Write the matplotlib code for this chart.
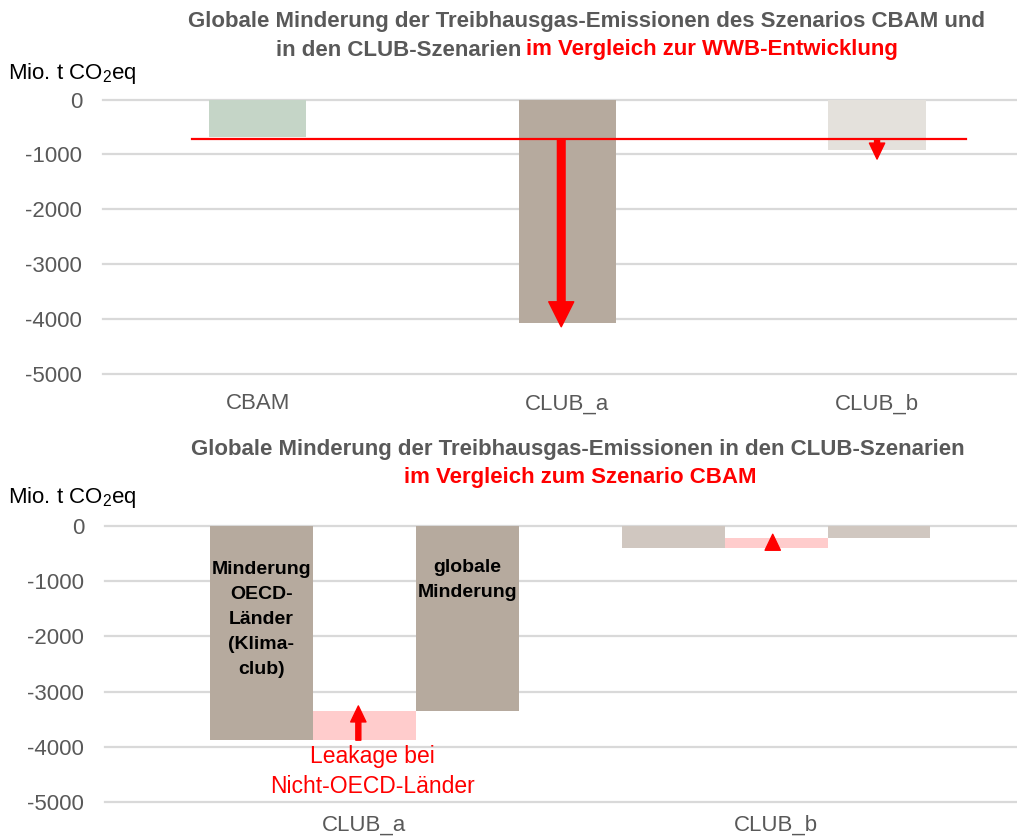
import matplotlib
matplotlib.use('Agg')
import matplotlib.pyplot as plt
from matplotlib.patches import FancyArrowPatch

plt.rcParams['mathtext.default'] = 'regular'

NARROW = ['Liberation Sans Narrow', 'Liberation Sans', 'DejaVu Sans']
ARIAL = ['Liberation Sans', 'DejaVu Sans']
GREY = '#595959'

# --- Daten oberes Diagramm (Mio. t CO2eq, Vergleich zu WWB) ---
kat_oben = ['CBAM', 'CLUB_a', 'CLUB_b']
werte_oben = [-690, -4065, -915]
farben_oben = ['#C5D5C7', '#B6AA9E', '#E4E1DC']
wwb_linie = -720                    # Niveau CBAM
pfeil_spitzen_oben = {1: -4140, 2: -1085}

# --- Daten unteres Diagramm (Vergleich zu CBAM) ---
kat_unten = ['CLUB_a', 'CLUB_b']
minderung_oecd = [-3880, -395]
globale_minderung = [-3345, -210]
farben_unten = ['#B6AA9E', '#D0C7C0']
pfeil_unten = [(-3880, -3260), (-410, -150)]

yticks = [0, -1000, -2000, -3000, -4000, -5000]

W, H = 1017, 840
fig = plt.figure(figsize=(W / 100, H / 100), dpi=100)


def fx(px):
    return px / W


def fy(py):
    return 1 - py / H


def achse_stil(ax, xpad):
    ax.set_ylim(-5000, 0)
    ax.set_yticks(yticks)
    ax.set_yticklabels([str(t) for t in yticks], fontfamily=ARIAL, fontsize=16, color=GREY)
    for s in ax.spines.values():
        s.set_visible(False)
    ax.tick_params(axis='y', length=0, pad=15)
    ax.tick_params(axis='x', length=0, pad=xpad)
    ax.yaxis.grid(True, color='#D9D9D9', linewidth=1.6)
    ax.set_axisbelow(True)
    for gl in ax.get_ygridlines():
        gl.set_clip_on(False)


def pfeil(ax, x, y0, y1, hl, hw, tw):
    p = FancyArrowPatch((x, y0), (x, y1),
                        arrowstyle=f'simple,head_length={hl},head_width={hw},tail_width={tw}',
                        mutation_scale=1, color='red', shrinkA=0, shrinkB=0,
                        clip_on=False, zorder=5)
    ax.add_patch(p)


def zweifarbig(renderer, cx, y, grau, rot, size):
    # Zeile aus grauem und rotem Teil zentriert zusammensetzen
    t1 = fig.text(0, y, grau, fontfamily=NARROW, fontweight='bold', fontsize=size,
                  color=GREY, va='center')
    t2 = fig.text(0, y, rot, fontfamily=NARROW, fontweight='bold', fontsize=size,
                  color='red', va='center')
    w1 = t1.get_window_extent(renderer).width if grau else 0
    w2 = t2.get_window_extent(renderer).width
    gap = 5 if grau else 0
    x0 = cx - (w1 + gap + w2) / 2
    t1.set_x(fx(x0))
    t2.set_x(fx(x0 + w1 + gap))


# ---------------- oberes Diagramm ----------------
ax1 = fig.add_axes([fx(103), fy(374), fx(1017 - 103), (374 - 99.5) / H])
x1 = list(range(len(kat_oben)))
ax1.bar(x1, werte_oben, width=0.314, color=farben_oben, zorder=2)
ax1.set_xlim(-0.5, 2.452)
ax1.set_xticks(x1)
ax1.set_xticklabels(kat_oben, fontfamily=NARROW, fontsize=16, color=GREY)
achse_stil(ax1, 14)
ax1.plot([-0.212, 2.288], [wwb_linie, wwb_linie], color='red', linewidth=1.6, zorder=4)
pfeil(ax1, 1 - 0.02, wwb_linie, pfeil_spitzen_oben[1], 18, 18, 5.5)
pfeil(ax1, 2, wwb_linie, pfeil_spitzen_oben[2], 11.5, 11, 3.6)

# ---------------- unteres Diagramm ----------------
ax2 = fig.add_axes([fx(105), fy(802), fx(1017 - 105), (802 - 526) / H])
x2 = list(range(len(kat_unten)))
bw = 0.25
for i in x2:
    ax2.bar(i - bw, minderung_oecd[i], width=bw, color=farben_unten[i], zorder=2)
    ax2.bar(i, globale_minderung[i] - minderung_oecd[i], bottom=minderung_oecd[i],
            width=bw, color='#FFCCCC', zorder=2)
    ax2.bar(i + bw, globale_minderung[i], width=bw, color=farben_unten[i], zorder=2)
ax2.set_xlim(-0.629, 1.585)
ax2.set_xticks(x2)
ax2.set_xticklabels(kat_unten, fontfamily=NARROW, fontsize=16, color=GREY)
achse_stil(ax2, 9)
pfeil(ax2, -0.014, pfeil_unten[0][0], pfeil_unten[0][1], 11.5, 11, 3.6)
pfeil(ax2, -0.008 + 1, pfeil_unten[1][0], pfeil_unten[1][1], 11.5, 11, 0.5)

ax2.text(-bw, -1700, 'Minderung\nOECD-\nLänder\n(Klima-\nclub)', ha='center', va='center',
         fontfamily=NARROW, fontweight='bold', fontsize=14, linespacing=1.62, zorder=6)
ax2.text(bw, -980, 'globale\nMinderung', ha='center', va='center',
         fontfamily=NARROW, fontweight='bold', fontsize=14, linespacing=1.58, zorder=6)
ax2.text(0.02, -4440, 'Leakage bei\nNicht-OECD-Länder', ha='center', va='center',
         fontfamily=ARIAL, fontsize=16.5, color='red', linespacing=1.38, zorder=6)

# ---------------- Titel und Einheiten ----------------
fig.text(fx(587), fy(22), 'Globale Minderung der Treibhausgas-Emissionen des Szenarios CBAM und',
         ha='center', va='center', fontfamily=NARROW, fontweight='bold', fontsize=16, color=GREY)
fig.text(fx(578), fy(450), 'Globale Minderung der Treibhausgas-Emissionen in den CLUB-Szenarien',
         ha='center', va='center', fontfamily=NARROW, fontweight='bold', fontsize=16, color=GREY)
fig.text(fx(8), fy(73), 'Mio. t CO$_2$eq', ha='left', va='center', fontfamily=NARROW,
         fontsize=16, color='black')
fig.text(fx(8), fy(498), 'Mio. t CO$_2$eq', ha='left', va='center', fontfamily=NARROW,
         fontsize=16, color='black')

renderer = fig.canvas.get_renderer()
zweifarbig(renderer, 587, fy(50), 'in den CLUB-Szenarien', 'im Vergleich zur WWB-Entwicklung', 16)
zweifarbig(renderer, 580, fy(477), '', 'im Vergleich zum Szenario CBAM', 16)

fig.savefig('out.png', dpi=100)
